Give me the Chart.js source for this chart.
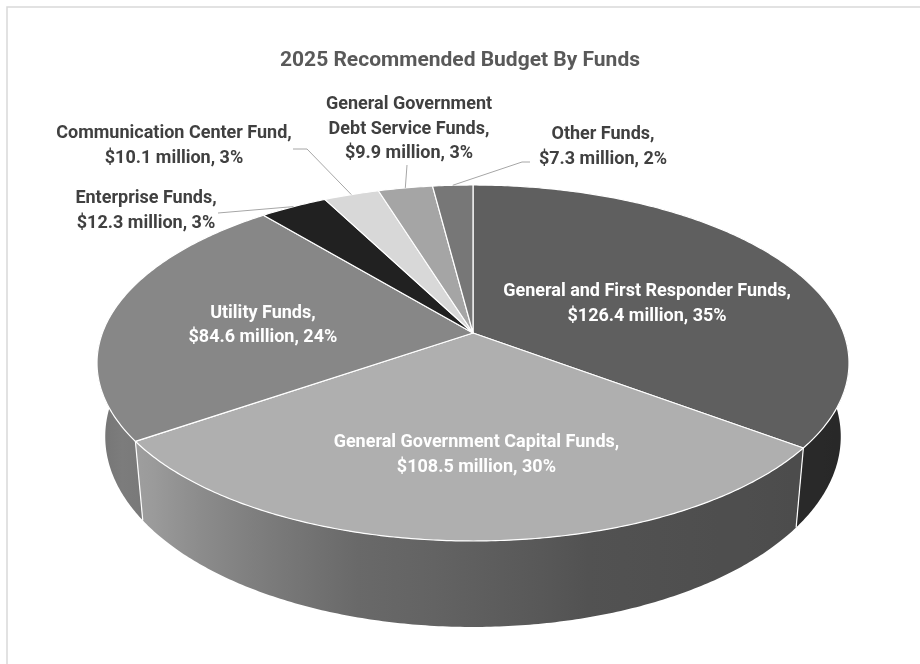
<!DOCTYPE html>
<html>
<head>
<meta charset="utf-8">
<title>2025 Recommended Budget By Funds</title>
<script src="https://cdn.jsdelivr.net/npm/chart.js@4.4.1/dist/chart.umd.min.js"></script>
<style>
  html, body { margin: 0; padding: 0; background: #fff; }
  #wrap { position: relative; width: 920px; height: 664px; }
</style>
</head>
<body>
<div id="wrap"><canvas id="budget"></canvas></div>
<script>
// budget by fund, in millions of dollars
const fundNames = [
  'General and First Responder Funds',
  'General Government Capital Funds',
  'Utility Funds',
  'Enterprise Funds',
  'Communication Center Fund',
  'General Government\nDebt Service Funds',
  'Other Funds'
];
const budgetMillions = [126.4, 108.5, 84.6, 12.3, 10.1, 9.9, 7.3];
const sliceGrays = ['#5f5f5f', '#afafaf', '#878787', '#212121', '#d8d8d8', '#a5a5a5', '#777777'];

// where each data label goes: inside ones sit near the slice middle,
// outside ones get a text position and a leader line to the rim
const labelPlacement = [
  { inside: true, dx: -10, dy: 2 },
  { inside: true, dx: 8, dy: -1.5 },
  { inside: true, dx: 0, dy: -6 },
  { x: 146, y: 198.5, leader: [[218, 213]] },
  { x: 174, y: 133.5, leader: [[293, 149], [307, 149]] },
  { x: 409, y: 104.5, leader: [[407, 165]] },
  { x: 603, y: 134.5, leader: [[530, 162], [522, 162]] }
];

const FONT = 'Roboto, "Liberation Sans", sans-serif';
const LINE_H = 24.5;

// tilted disc seen in perspective: top face and base share the vanishing line
const view = { cx: 473, horizon: -693.3, g: 1026.3, gBase: 1097.8, k: 0.1685, a: 370.6, aBase: 362.5 };

function project(theta, r, base) {
  const c = Math.cos(theta) * r, s = Math.sin(theta) * r;
  const w = 1 - view.k * s;
  return {
    x: view.cx + (base ? view.aBase : view.a) * c / w,
    y: view.horizon + (base ? view.gBase : view.g) / w
  };
}

// side wall brightness by angle (0 = right, 90 = front, 180 = left)
const wallLight = [[0, 0.40], [30, 0.43], [60, 0.45], [75, 0.47], [90, 0.545], [105, 0.60],
  [120, 0.72], [140, 0.88], [150, 0.92], [165, 0.84], [180, 0.74]];

function lightAt(deg) {
  for (let i = 1; i < wallLight.length; i++) {
    const [d1, v1] = wallLight[i], [d0, v0] = wallLight[i - 1];
    if (deg <= d1) return v0 + (v1 - v0) * (deg - d0) / (d1 - d0);
  }
  return wallLight[wallLight.length - 1][1];
}

function shade(hex, f) {
  const n = parseInt(hex.slice(1), 16);
  const ch = v => Math.max(0, Math.min(255, Math.round(v * f)));
  return `rgb(${ch(n >> 16)},${ch((n >> 8) & 255)},${ch(n & 255)})`;
}

function rimPath(ctx, a0, a1, base, first) {
  const steps = Math.max(2, Math.ceil(Math.abs(a1 - a0) / 0.01));
  for (let i = 0; i <= steps; i++) {
    const p = project(a0 + (a1 - a0) * i / steps, 1, base);
    if (i === 0 && first) ctx.moveTo(p.x, p.y); else ctx.lineTo(p.x, p.y);
  }
}

function wallGradient(ctx, hex) {
  const x0 = view.cx - 380, x1 = view.cx + 380;
  const g = ctx.createLinearGradient(x0, 0, x1, 0);
  for (let d = 10; d <= 170; d += 5) {
    const p = project(d * Math.PI / 180, 1, false);
    g.addColorStop((p.x - x0) / (x1 - x0), shade(hex, lightAt(d)));
  }
  return g;
}

const pie3d = {
  id: 'pie3d',
  beforeDatasetsDraw(chart) {
    const ctx = chart.ctx;
    const meta = chart.getDatasetMeta(0);
    const colors = chart.data.datasets[0].backgroundColor;
    ctx.save();
    ctx.lineJoin = 'round';

    // front side walls
    meta.data.forEach((arc, i) => {
      const lo = Math.max(arc.startAngle, 0), hi = Math.min(arc.endAngle, Math.PI);
      if (lo >= hi) return;
      ctx.beginPath();
      rimPath(ctx, lo, hi, false, true);
      rimPath(ctx, hi, lo, true, false);
      ctx.closePath();
      ctx.fillStyle = wallGradient(ctx, colors[i]);
      ctx.fill();
    });

    // seams between slices on the wall
    ctx.strokeStyle = '#ffffff';
    ctx.lineWidth = 1.2;
    meta.data.forEach(arc => {
      const a = arc.startAngle;
      if (a <= 0 || a >= Math.PI) return;
      const t = project(a, 1, false), b = project(a, 1, true);
      ctx.beginPath();
      ctx.moveTo(t.x, t.y);
      ctx.lineTo(b.x, b.y);
      ctx.stroke();
    });

    // top faces
    const c = project(0, 0, false);
    meta.data.forEach((arc, i) => {
      ctx.beginPath();
      ctx.moveTo(c.x, c.y);
      rimPath(ctx, arc.startAngle, arc.endAngle, false, false);
      ctx.closePath();
      ctx.fillStyle = colors[i];
      ctx.fill();
      ctx.stroke();
    });
    ctx.restore();
    // the flat pie is replaced by the drawing above
    return false;
  },
  afterDraw(chart) {
    const ctx = chart.ctx;
    const meta = chart.getDatasetMeta(0);
    const values = chart.data.datasets[0].data;
    const total = values.reduce((s, v) => s + v, 0);
    ctx.save();
    ctx.textAlign = 'center';
    ctx.textBaseline = 'middle';
    ctx.font = `bold 18px ${FONT}`;

    meta.data.forEach((arc, i) => {
      const place = labelPlacement[i];
      const lines = chart.data.labels[i].split('\n');
      lines[lines.length - 1] += ',';
      lines.push(`$${values[i].toFixed(1)} million, ${Math.round(values[i] / total * 100)}%`);
      const mid = (arc.startAngle + arc.endAngle) / 2;
      let x, y;
      if (place.inside) {
        const p = project(mid, 0.58, false);
        x = p.x + place.dx;
        y = p.y + place.dy;
        ctx.fillStyle = '#ffffff';
      } else {
        x = place.x;
        y = place.y;
        const end = project(mid, 1, false);
        ctx.strokeStyle = '#a6a6a6';
        ctx.lineWidth = 1;
        ctx.beginPath();
        place.leader.forEach(([lx, ly], j) => j ? ctx.lineTo(lx, ly) : ctx.moveTo(lx, ly));
        ctx.lineTo(end.x, end.y);
        ctx.stroke();
        ctx.fillStyle = '#404040';
      }
      lines.forEach((t, j) => ctx.fillText(t, x, y + j * LINE_H));
    });

    // chart area frame, open to the right and bottom
    ctx.strokeStyle = '#d9d9d9';
    ctx.lineWidth = 1.5;
    ctx.strokeRect(7, 7, 1200, 1200);
    ctx.restore();
  }
};

new Chart(document.getElementById('budget'), {
  type: 'pie',
  data: {
    labels: fundNames,
    datasets: [{ data: budgetMillions, backgroundColor: sliceGrays, borderColor: '#ffffff' }]
  },
  options: {
    responsive: true,
    maintainAspectRatio: false,
    animation: false,
    events: [],
    layout: { padding: 0 },
    plugins: {
      legend: { display: false },
      tooltip: { enabled: false },
      title: {
        display: true,
        text: '2025 Recommended Budget By Funds',
        color: '#595959',
        font: { family: FONT, size: 21, weight: 'bold' },
        padding: { top: 48, bottom: 0 }
      }
    }
  },
  plugins: [pie3d]
});
</script>
</body>
</html>
